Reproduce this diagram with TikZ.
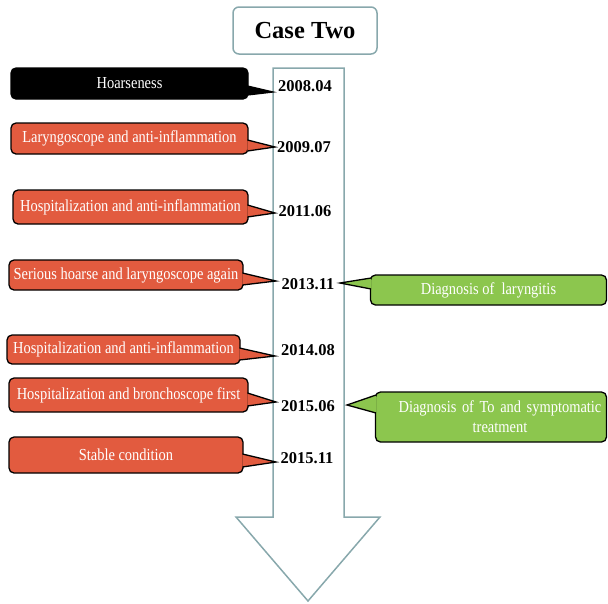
\documentclass[tikz,border=0pt]{standalone}
\usepackage{fontspec}
\setmainfont{Liberation Serif}
\newfontfamily\narrowserif[FakeStretch=0.86]{Liberation Serif}
\usetikzlibrary{calc}
\definecolor{evt}{RGB}{226,91,63}
\definecolor{diag}{RGB}{140,198,78}
\definecolor{arrowline}{RGB}{136,168,172}
\tikzset{
  callout/.style={draw=black, line width=1.3pt, rounded corners=5pt, text=white,
    inner sep=0pt, font=\narrowserif\fontsize{16.8}{20}\selectfont, align=center},
  evtbox/.style={callout, fill=evt},
  diagbox/.style={callout, fill=diag},
  datelabel/.style={font=\fontsize{16.5}{18}\selectfont\bfseries, inner sep=0pt},
  wedgeline/.style={draw=black, line width=1.3pt, line join=miter},
}
% #1 box node, #2 y top of base, #3 y bottom of base, #4 tip, #5 fill colour
\newcommand\rwedge[5]{%
  \filldraw[wedgeline, fill=#5] ($(#1.east|-0,#2)+(-1.2,0)$) -- (#4) -- ($(#1.east|-0,#3)+(-1.2,0)$);}
\newcommand\lwedge[5]{%
  \filldraw[wedgeline, fill=#5] ($(#1.west|-0,#2)+(1.2,0)$) -- (#4) -- ($(#1.west|-0,#3)+(1.2,0)$);}
\begin{document}
\begin{tikzpicture}[x=1pt,y=-1pt]
\useasboundingbox (0,0) rectangle (608,603);
% timeline arrow
\draw[arrowline, line width=1.5pt, fill=white, line join=miter]
  (273,68) -- (344,68) -- (344,517) -- (380,517) -- (308,601) -- (236,517) -- (273,517) -- cycle;
% title
\node[draw=arrowline, line width=1.5pt, rounded corners=6pt, minimum width=144pt, minimum height=47pt,
  inner sep=0pt, font=\fontsize{24.5}{26}\selectfont\bfseries] (title) at (305,30.5) {Case Two};
% dates
\node[datelabel] (d1) at (305,86) {2008.04};
\node[datelabel] (d2) at (304,147) {2009.07};
\node[datelabel] (d3) at (305,211) {2011.06};
\node[datelabel] (d4) at (308,284) {2013.11};
\node[datelabel] (d5) at (308,350) {2014.08};
\node[datelabel] (d6) at (308,406) {2015.06};
\node[datelabel] (d7) at (307,458) {2015.11};
% tips
\coordinate (t1) at (273,92);
\coordinate (t2) at (275,147);
\coordinate (t3) at (275,213);
\coordinate (t4) at (276,281);
\coordinate (t5) at (275,356);
\coordinate (t6) at (276,402);
\coordinate (t7) at (276,462);
\coordinate (t8) at (340,283);
\coordinate (t9) at (347,405);
% event callouts
\node[evtbox, fill=black, minimum width=237pt, minimum height=31pt] (e1) at (129.5,83.5) {Hoarseness};
\node[evtbox, minimum width=237pt, minimum height=31pt] (e2) at (129.5,138.5) {Laryngoscope and anti-inflammation};
\node[evtbox, minimum width=235pt, minimum height=34pt] (e3) at (130.5,207) {Hospitalization and anti-inflammation};
\node[evtbox, minimum width=234pt, minimum height=30pt] (e4) at (126,275) {Serious hoarse and laryngoscope again};
\node[evtbox, minimum width=233pt, minimum height=29pt] (e5) at (123.5,349.5) {Hospitalization and anti-inflammation};
\node[evtbox, minimum width=239pt, minimum height=34pt] (e6) at (128.5,395) {Hospitalization and bronchoscope first};
\node[evtbox, minimum width=234pt, minimum height=36pt] (e7) at (126,455) {Stable condition};
\rwedge{e1}{86}{95}{t1}{black}
\rwedge{e2}{140}{151}{t2}{evt}
\rwedge{e3}{205}{217}{t3}{evt}
\rwedge{e4}{273}{285}{t4}{evt}
\rwedge{e5}{348}{360}{t5}{evt}
\rwedge{e6}{393}{406}{t6}{evt}
\rwedge{e7}{454}{467}{t7}{evt}
% diagnosis callouts
\node[diagbox, minimum width=236pt, minimum height=30pt] (g1) at (488.5,290) {Diagnosis of\ \ laryngitis};
\node[diagbox, minimum width=231pt, minimum height=50pt, text width=225pt] (g2) at (491,417)
  {\hspace*{18pt}Diagnosis of To and symptomatic\\\hspace*{18pt}treatment};
\lwedge{g1}{278}{289}{t8}{diag}
\lwedge{g2}{395}{413}{t9}{diag}
\end{tikzpicture}
\end{document}
